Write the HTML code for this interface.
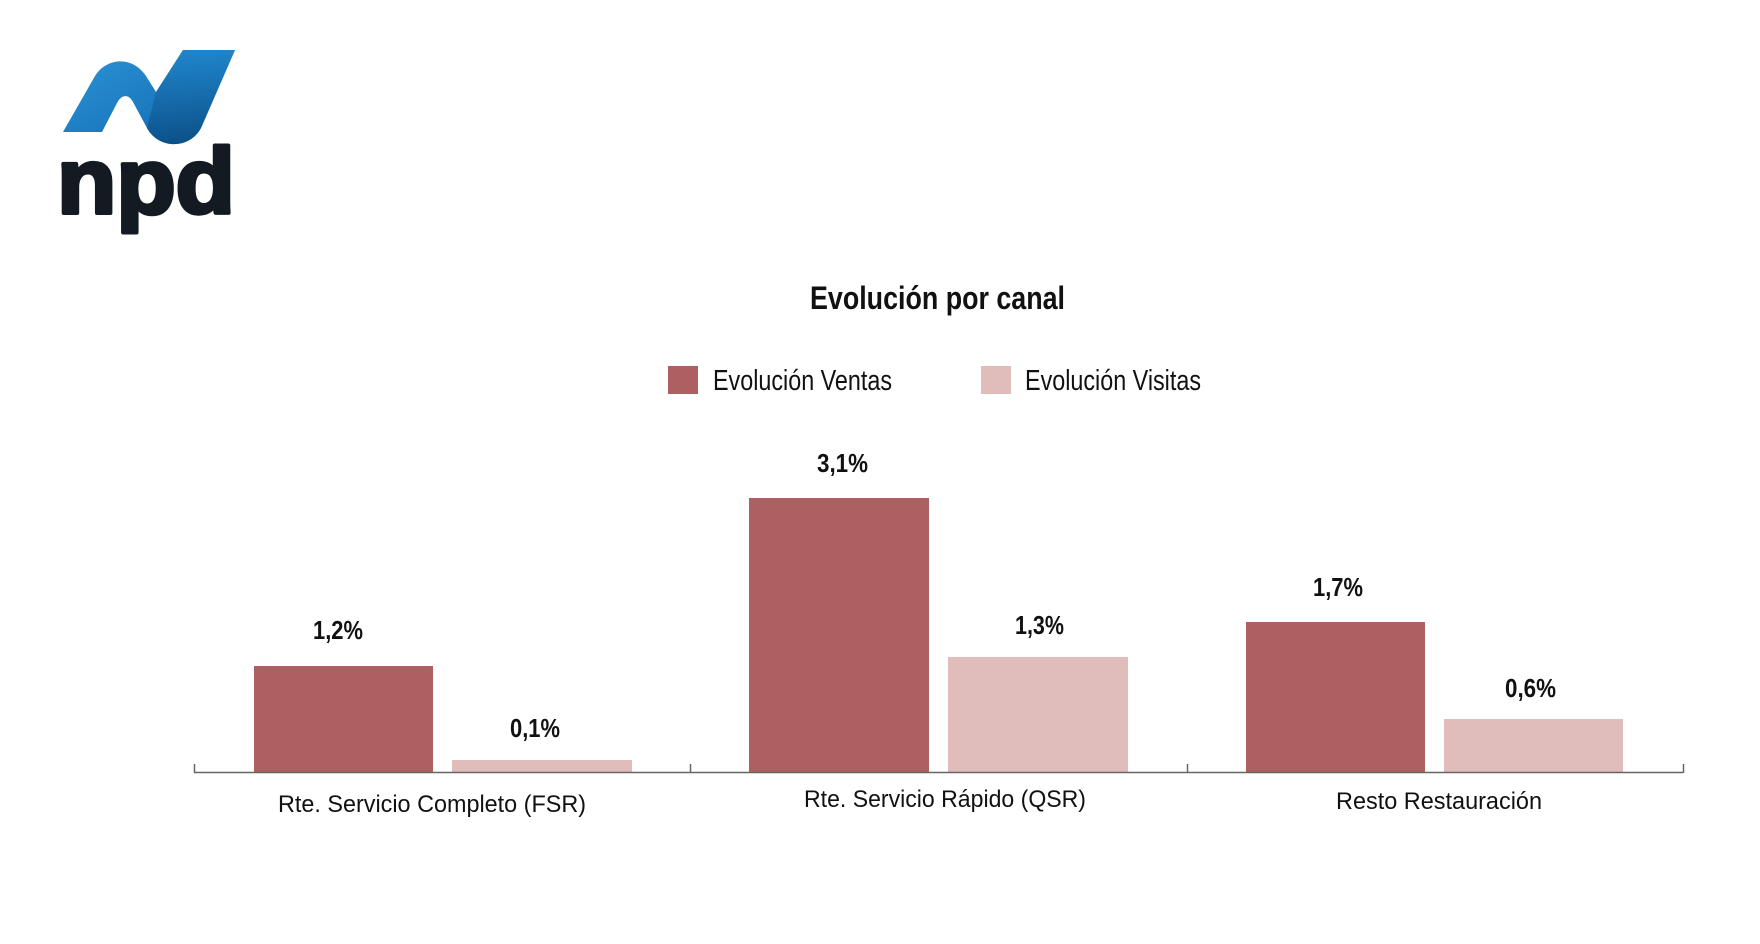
<!DOCTYPE html>
<html><head><meta charset="utf-8"><style>
html,body{margin:0;padding:0;background:#fff;}
svg{display:block;}
text{font-family:"Liberation Sans Narrow","Liberation Sans",sans-serif;fill:#111;}
</style></head><body>
<svg width="1760" height="944" viewBox="0 0 1760 944" xmlns="http://www.w3.org/2000/svg">
<defs>
<linearGradient id="g1" x1="0" y1="0" x2="1" y2="1">
<stop offset="0" stop-color="#2f95d6"/><stop offset="0.6" stop-color="#1a78bf"/><stop offset="1" stop-color="#0a4f86"/>
</linearGradient>
<linearGradient id="g2" x1="0" y1="0" x2="0" y2="1">
<stop offset="0" stop-color="#1f86cc"/><stop offset="1" stop-color="#0b4c82"/>
</linearGradient>
</defs>
<path d="M63,132 L95,76 C106,58 132,55 146,76 L156,92 L183,50 L235,50 L201,128 C190,149 159,150 147,128 L133,102 C128,93 121,95 117,103 L102,132 Z" fill="url(#g1)"/>
<path d="M156,92 L183,50 L235,50 L201,128 C190,149 159,150 147,128 Z" fill="url(#g2)" opacity="0.8"/>
<text x="57" y="213" font-size="93" font-weight="bold" textLength="178" lengthAdjust="spacingAndGlyphs" stroke="#131a22" stroke-width="4" stroke-linejoin="round" style="font-family:'Liberation Sans',sans-serif;fill:#131a22">npd</text>

<text x="810" y="309" font-size="32" font-weight="bold" textLength="255" lengthAdjust="spacingAndGlyphs">Evolución por canal</text>

<rect x="668" y="366" width="30" height="28" fill="#ad5f62"/>
<text x="713" y="390" font-size="29" textLength="179" lengthAdjust="spacingAndGlyphs">Evolución Ventas</text>
<rect x="981" y="366" width="30" height="28" fill="#e0bcbb"/>
<text x="1025" y="390" font-size="29" textLength="176" lengthAdjust="spacingAndGlyphs">Evolución Visitas</text>

<rect x="254" y="666" width="179" height="106" fill="#ad5f62"/>
<rect x="452" y="760" width="180" height="12" fill="#e0bcbb"/>
<rect x="749" y="498" width="180" height="274" fill="#ad5f62"/>
<rect x="948" y="657" width="180" height="115" fill="#e0bcbb"/>
<rect x="1246" y="622" width="179" height="150" fill="#ad5f62"/>
<rect x="1444" y="719" width="179" height="53" fill="#e0bcbb"/>

<path d="M194,772.5 H1683 M194.5,764 V773 M690.5,764 V773 M1187.5,764 V773 M1683.5,764 V773" stroke="#666" stroke-width="1.5" fill="none"/>

<g font-size="26" font-weight="bold">
<text x="313" y="639" textLength="50" lengthAdjust="spacingAndGlyphs">1,2%</text>
<text x="510" y="737" textLength="50" lengthAdjust="spacingAndGlyphs">0,1%</text>
<text x="817" y="472" textLength="51" lengthAdjust="spacingAndGlyphs">3,1%</text>
<text x="1015" y="634" textLength="49" lengthAdjust="spacingAndGlyphs">1,3%</text>
<text x="1313" y="596" textLength="50" lengthAdjust="spacingAndGlyphs">1,7%</text>
<text x="1505" y="697" textLength="51" lengthAdjust="spacingAndGlyphs">0,6%</text>
</g>

<g font-size="24">
<text x="278" y="812" textLength="308" lengthAdjust="spacingAndGlyphs">Rte. Servicio Completo (FSR)</text>
<text x="804" y="807" textLength="282" lengthAdjust="spacingAndGlyphs">Rte. Servicio Rápido (QSR)</text>
<text x="1336" y="809" textLength="206" lengthAdjust="spacingAndGlyphs">Resto Restauración</text>
</g>
</svg>
</body></html>
